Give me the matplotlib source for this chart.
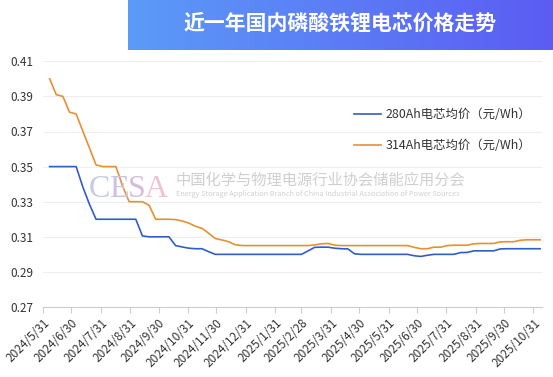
import matplotlib.pyplot as plt
import numpy as np
import pandas as pd
from matplotlib.colors import LinearSegmentedColormap

plt.rcParams['font.family'] = ['Noto Sans CJK SC', 'DejaVu Sans']

# weekly price points, yuan/Wh
dates = pd.date_range('2024-06-07', periods=75, freq='7D')

price_280 = [0.350, 0.350, 0.350, 0.350, 0.350, 0.3385, 0.3286, 0.320, 0.320, 0.320,
             0.320, 0.320, 0.320, 0.320, 0.3105, 0.310, 0.310, 0.310, 0.310, 0.305,
             0.3042, 0.3035, 0.3032, 0.3032, 0.3015, 0.300, 0.300, 0.300, 0.300, 0.300,
             0.300, 0.300, 0.300, 0.300, 0.300, 0.300, 0.300, 0.300, 0.300, 0.302,
             0.304, 0.3041, 0.3041, 0.3035, 0.3032, 0.3031, 0.3003, 0.300, 0.300, 0.300,
             0.300, 0.300, 0.300, 0.300, 0.300, 0.2992, 0.2988, 0.2995, 0.300, 0.300,
             0.300, 0.300, 0.301, 0.3011, 0.302, 0.302, 0.302, 0.302, 0.3031, 0.3032,
             0.3032, 0.3032, 0.3032, 0.3032, 0.3032]

price_314 = [0.400, 0.391, 0.390, 0.381, 0.380, 0.3703, 0.3607, 0.351, 0.350, 0.350,
             0.350, 0.339, 0.330, 0.330, 0.330, 0.328, 0.320, 0.320, 0.320, 0.3198,
             0.319, 0.3178, 0.316, 0.3148, 0.312, 0.309, 0.3082, 0.3072, 0.3055, 0.305,
             0.305, 0.305, 0.305, 0.305, 0.305, 0.305, 0.305, 0.305, 0.305, 0.305,
             0.3054, 0.306, 0.3062, 0.3052, 0.305, 0.305, 0.305, 0.305, 0.305, 0.305,
             0.305, 0.305, 0.305, 0.305, 0.305, 0.304, 0.3032, 0.3032, 0.3041, 0.3041,
             0.305, 0.3052, 0.3052, 0.3052, 0.306, 0.3062, 0.3062, 0.3062, 0.3071, 0.3072,
             0.3072, 0.308, 0.3083, 0.3083, 0.3083]

tick_labels = ['2024/5/31', '2024/6/30', '2024/7/31', '2024/8/31', '2024/9/30',
               '2024/10/31', '2024/11/30', '2024/12/31', '2025/1/31', '2025/2/28',
               '2025/3/31', '2025/4/30', '2025/5/31', '2025/6/30', '2025/7/31',
               '2025/8/31', '2025/9/30', '2025/10/31']

blue = '#2f5fc6'
orange = '#e8902f'
txt = '#333333'

fig = plt.figure(figsize=(5.53, 3.77), dpi=100)
ax = fig.add_axes([43 / 553, 1 - 307 / 377, (542 - 43) / 553, (307 - 61.3) / 377])

ax.plot(dates, price_280, color=blue, lw=1.2, label='280Ah电芯均价（元/Wh）')
ax.plot(dates, price_314, color=orange, lw=1.2, label='314Ah电芯均价（元/Wh）')

yt = np.arange(0.27, 0.4101, 0.02)
ax.set_ylim(0.27, 0.41)
ax.set_yticks(yt)
ax.set_yticklabels(['%.2f' % v for v in yt], color=txt, fontsize=8.5)
ax.yaxis.grid(True, color='#efefef', lw=0.8)
ax.tick_params(axis='y', length=0, pad=7)

tick_dates = pd.to_datetime(tick_labels, format='%Y/%m/%d')
ax.set_xlim(pd.Timestamp('2024-05-31'), pd.Timestamp('2025-11-09'))
ax.set_xticks(tick_dates)
ax.set_xticklabels(tick_labels, rotation=45, ha='right', rotation_mode='anchor',
                   color=txt, fontsize=8.5)
ax.tick_params(axis='x', length=4, color='#cccccc', pad=3)

for s in ['top', 'right', 'left']:
    ax.spines[s].set_visible(False)
ax.spines['bottom'].set_color('#cccccc')

leg = ax.legend(loc='upper right', bbox_to_anchor=(1.0, 0.855), frameon=False,
                fontsize=8.9, handlelength=2.2, labelspacing=1.45, handletextpad=0.35)
for t in leg.get_texts():
    t.set_color(txt)

# watermark
cesa_cols = ['#c5cbe6', '#c9c2e2', '#d6bcdc', '#efc3d4']
fig.canvas.draw()
r = fig.canvas.get_renderer()
cx = 89
for ch, c in zip('CESA', cesa_cols):
    t = fig.text(cx / 553, 1 - 197 / 377, ch, fontsize=23, family='Liberation Serif',
                 color=c, va='baseline', ha='left')
    cx += t.get_window_extent(r).width - 1
fig.text(176 / 553, 1 - 180 / 377, '中国化学与物理电源行业协会储能应用分会', fontsize=11,
         color='#cfcfcf', va='center', ha='left')
fig.text(176 / 553, 1 - 194 / 377,
         'Energy Storage Application Branch of China Industrial Association of Power Sources',
         fontsize=5.3, color='#d0d0d0', va='center', ha='left')

# title banner
tax = fig.add_axes([128 / 553, 1 - 50 / 377, (553 - 128) / 553, 50 / 377])
grad = np.linspace(0, 1, 256).reshape(1, -1)
cmap = LinearSegmentedColormap.from_list('banner', ['#5b9bf8', '#5c5cf3'])
tax.imshow(grad, aspect='auto', cmap=cmap, extent=[0, 1, 0, 1])
tax.set_axis_off()
tax.text(0.5, 0.54, '近一年国内磷酸铁锂电芯价格走势', color='white', fontsize=15,
         fontweight='bold', ha='center', va='center', transform=tax.transAxes)

fig.savefig('out.png', dpi=100)
